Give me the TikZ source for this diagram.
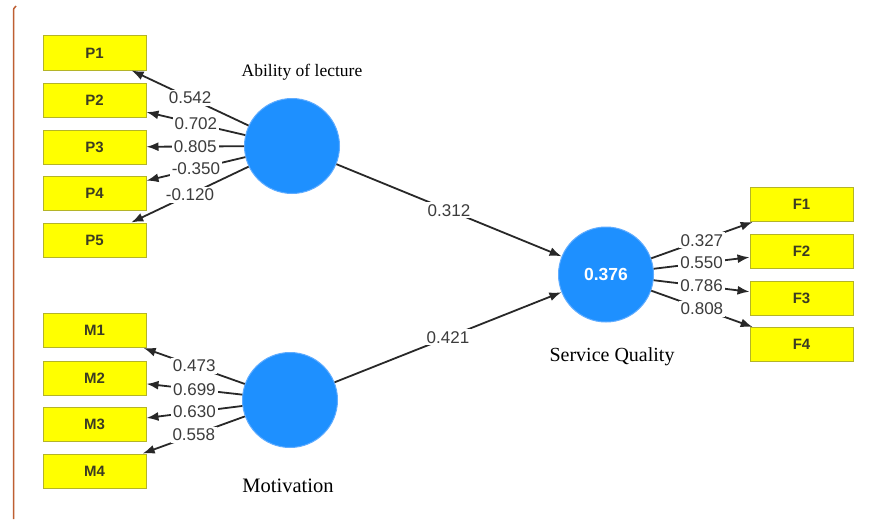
\documentclass[tikz,border=0pt]{standalone}
\usepackage{fontspec}
\setmainfont{Liberation Serif}
\newfontfamily\labelsans{Liberation Sans}
\usetikzlibrary{arrows.meta}
\definecolor{itemfill}{RGB}{255,255,0}
\definecolor{itemedge}{RGB}{180,180,40}
\definecolor{itemtext}{RGB}{60,60,35}
\definecolor{latentfill}{RGB}{30,144,255}
\definecolor{latentedge}{RGB}{95,172,255}
\definecolor{linkcol}{RGB}{40,40,40}
\definecolor{weighttext}{RGB}{60,60,60}
\definecolor{margincol}{RGB}{190,95,50}
\begin{document}
\begin{tikzpicture}[x=1pt,y=-1pt,
  item/.style={draw=itemedge, fill=itemfill, line width=1pt,
    minimum width=103pt, minimum height=34pt, inner sep=0pt,
    font=\labelsans\bfseries\fontsize{15}{15}\selectfont, text=itemtext},
  latent/.style={circle, fill=latentfill, draw=latentedge, line width=1pt,
    minimum size=95pt, inner sep=0pt, text=white,
    font=\labelsans\bfseries\fontsize{17.5}{17.5}\selectfont},
  caption/.style={inner sep=0pt},
  link/.style={draw=linkcol, line width=1.8pt, -{Latex[length=12pt,width=9pt]}},
  weight/.style={fill=white, inner sep=2pt, text=weighttext, pos=0.5,
    font=\labelsans\fontsize{17}{17}\selectfont}
]
\useasboundingbox (0,0) rectangle (874,519);
\fill[white] (0,0) rectangle (874,519);

% left margin rule
\draw[margincol, line width=1.5pt] (16,6) .. controls (13.5,8) .. (13.5,15) -- (13.5,519);

% latent variables
\node[latent] (AL) at (292,146) {};
\node[latent] (MO) at (290,400) {};
\node[latent] (SQ) at (606,274.5) {0.376};

\node[caption, font=\fontsize{17.5}{17.5}\selectfont] (capAL) at (302,72) {Ability of lecture};
\node[caption, font=\fontsize{20.5}{20.5}\selectfont] (capMO) at (288,486) {Motivation};
\node[caption, font=\fontsize{20}{20}\selectfont] (capSQ) at (612,357) {Service Quality};

% indicators
\node[item] (P1) at (94.5,53) {P1};
\node[item] (P2) at (94.5,100) {P2};
\node[item] (P3) at (94.5,147) {P3};
\node[item] (P4) at (94.5,193) {P4};
\node[item] (P5) at (94.5,240) {P5};

\node[item] (M1) at (94.5,330.5) {M1};
\node[item] (M2) at (94.5,378) {M2};
\node[item] (M3) at (94.5,424.5) {M3};
\node[item] (M4) at (94.5,471) {M4};

\node[item] (F1) at (801.5,204.5) {F1};
\node[item] (F2) at (801.5,251) {F2};
\node[item] (F3) at (801.5,298) {F3};
\node[item] (F4) at (801.5,344.5) {F4};

% loadings
\foreach \t/\w in {P1/0.542, P2/0.702, P3/0.805, P4/-0.350, P5/-0.120}
  \draw[link] (AL) -- node[weight] {\w} (\t);
\foreach \t/\w in {M1/0.473, M2/0.699, M3/0.630, M4/0.558}
  \draw[link] (MO) -- node[weight] {\w} (\t);
\foreach \t/\w in {F1/0.327, F2/0.550, F3/0.786, F4/0.808}
  \draw[link] (SQ) -- node[weight] {\w} (\t);

% path coefficients
\draw[link] (AL) -- node[weight] {0.312} (SQ);
\draw[link] (MO) -- node[weight] {0.421} (SQ);
\end{tikzpicture}
\end{document}
